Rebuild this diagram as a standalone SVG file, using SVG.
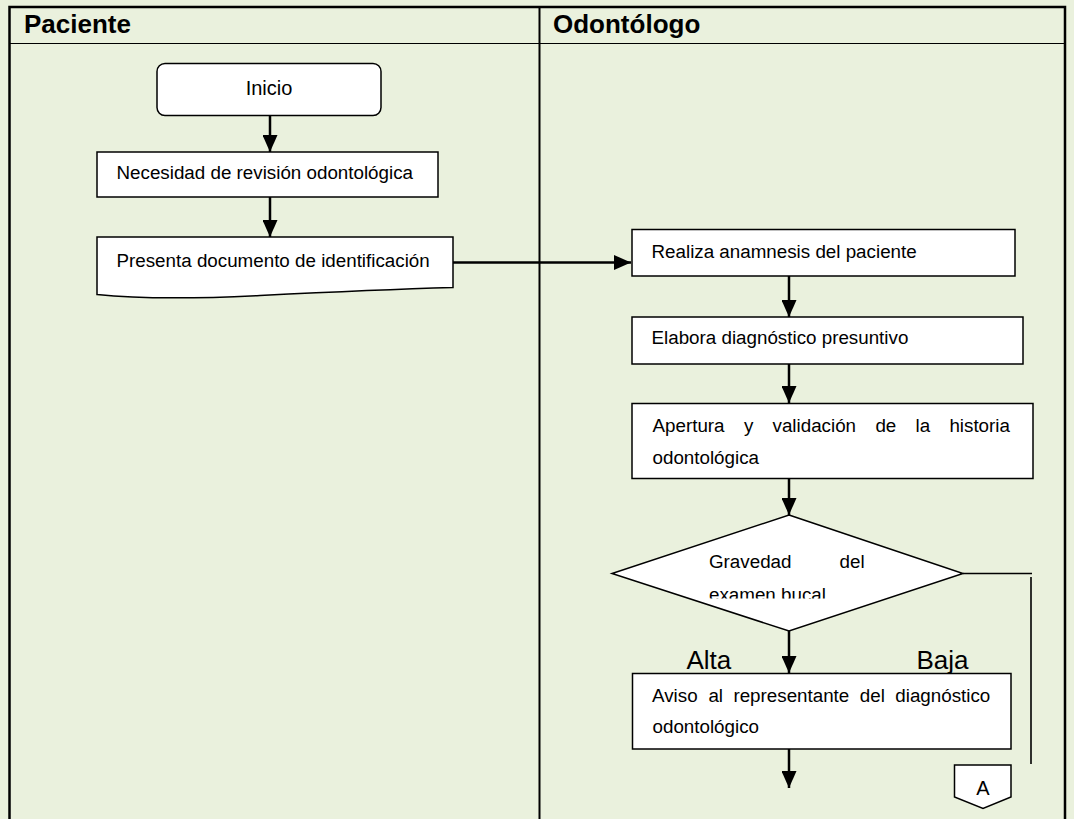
<svg xmlns="http://www.w3.org/2000/svg" width="1074" height="819" viewBox="0 0 1074 819">
  <style>
    text { font-family: "Liberation Sans", Arial, sans-serif; fill: #000; }
    .hdr { font-size: 26px; font-weight: bold; }
    .lbl { font-size: 18.8px; }
    .big { font-size: 26px; }
    .box { fill: #fff; stroke: #000; stroke-width: 1.5; }
    .flow { fill: none; stroke: #000; stroke-width: 2.5; marker-end: url(#head); }
    .plain { fill: none; stroke: #000; stroke-width: 1.6; }
    .grid { fill: none; stroke: #000; }
  </style>
  <defs>
    <marker id="head" markerUnits="userSpaceOnUse" viewBox="0 0 17 15" refX="17" refY="7.5" markerWidth="17" markerHeight="15" orient="auto">
      <path d="M0,0 L17,7.5 L0,15 Z" fill="#000"/>
    </marker>
    <clipPath id="diamondText">
      <rect x="600" y="540" width="360" height="58.5"/>
    </clipPath>
  </defs>

  <!-- page background -->
  <rect x="0" y="0" width="1074" height="819" fill="#EAF1DD"/>

  <!-- swimlane table -->
  <g id="lanes">
    <path class="grid" stroke-width="2.5" d="M9.5,830 V7 H1065 V830"/>
    <path class="grid" stroke-width="1" d="M9.5,43.5 H1065"/>
    <path class="grid" stroke-width="2" d="M539.5,7 V830"/>
    <text class="hdr" x="24" y="32.5">Paciente</text>
    <text class="hdr" x="553" y="32.5">Odontólogo</text>
  </g>

  <!-- connectors -->
  <g id="connectors">
    <path class="flow" d="M270,116 V152"/>
    <path class="flow" d="M270,197 V237"/>
    <path class="flow" d="M453,262.5 H631"/>
    <path class="flow" d="M789,276 V317"/>
    <path class="flow" d="M789,364 V403"/>
    <path class="flow" d="M789,478 V515"/>
    <path class="flow" d="M789,631 V673"/>
    <path class="flow" d="M789,749 V788"/>
    <path class="plain" d="M963,573.5 H1032"/>
    <path class="plain" d="M1031,577 V764"/>
    <text class="big" x="686.5" y="669">Alta</text>
    <text class="big" x="916.5" y="669">Baja</text>
  </g>

  <g id="inicio">
    <rect class="box" x="157" y="63.5" width="224" height="52" rx="8" ry="8"/>
    <text x="269" y="95" font-size="20" text-anchor="middle">Inicio</text>
  </g>

  <g id="necesidad">
    <rect class="box" x="97" y="152" width="341" height="45"/>
    <text class="lbl" x="116.5" y="179">Necesidad de revisión odontológica</text>
  </g>

  <g id="presenta">
    <path class="box" d="M97,237 H453 V287.5 C400,289 330,292 260,295.5 C200,298.5 140,299 97,294.5 Z"/>
    <text class="lbl" x="116.5" y="267">Presenta documento de identificación</text>
  </g>

  <g id="realiza">
    <rect class="box" x="632" y="229.5" width="383" height="46.5"/>
    <text class="lbl" x="651.5" y="257.5">Realiza anamnesis del paciente</text>
  </g>

  <g id="elabora">
    <rect class="box" x="632" y="317" width="391" height="47"/>
    <text class="lbl" x="651.5" y="344">Elabora diagnóstico presuntivo</text>
  </g>

  <!-- justified first lines: one tspan per word -->
  <g id="apertura">
    <rect class="box" x="632" y="403.5" width="401" height="75"/>
    <text class="lbl" y="432">
      <tspan x="652.5">Apertura</tspan><tspan x="743.9">y</tspan><tspan x="772.5">validación</tspan><tspan x="875.4">de</tspan><tspan x="915.5">la</tspan><tspan x="949.4">historia</tspan>
    </text>
    <text class="lbl" x="652.5" y="463.5">odontológica</text>
  </g>

  <g id="gravedad">
    <polygon class="box" points="789,515 963,573.5 789,631 612,573.5"/>
    <text class="lbl" x="709" y="568">Gravedad</text>
    <text class="lbl" x="839.5" y="568">del</text>
    <text class="lbl" x="709" y="600.5" clip-path="url(#diamondText)">examen bucal</text>
  </g>

  <g id="aviso">
    <rect class="box" x="632.5" y="673.5" width="378.5" height="75.5"/>
    <text class="lbl" y="702">
      <tspan x="652">Aviso</tspan><tspan x="708.4">al</tspan><tspan x="733.4">representante</tspan><tspan x="859.8">del</tspan><tspan x="895.3">diagnóstico</tspan>
    </text>
    <text class="lbl" x="652.5" y="733">odontológico</text>
  </g>

  <g id="conector-a">
    <path class="box" d="M954.5,765 H1011 V797 L983,808.5 L954.5,797 Z"/>
    <text x="983" y="795" font-size="20" text-anchor="middle">A</text>
  </g>
</svg>
